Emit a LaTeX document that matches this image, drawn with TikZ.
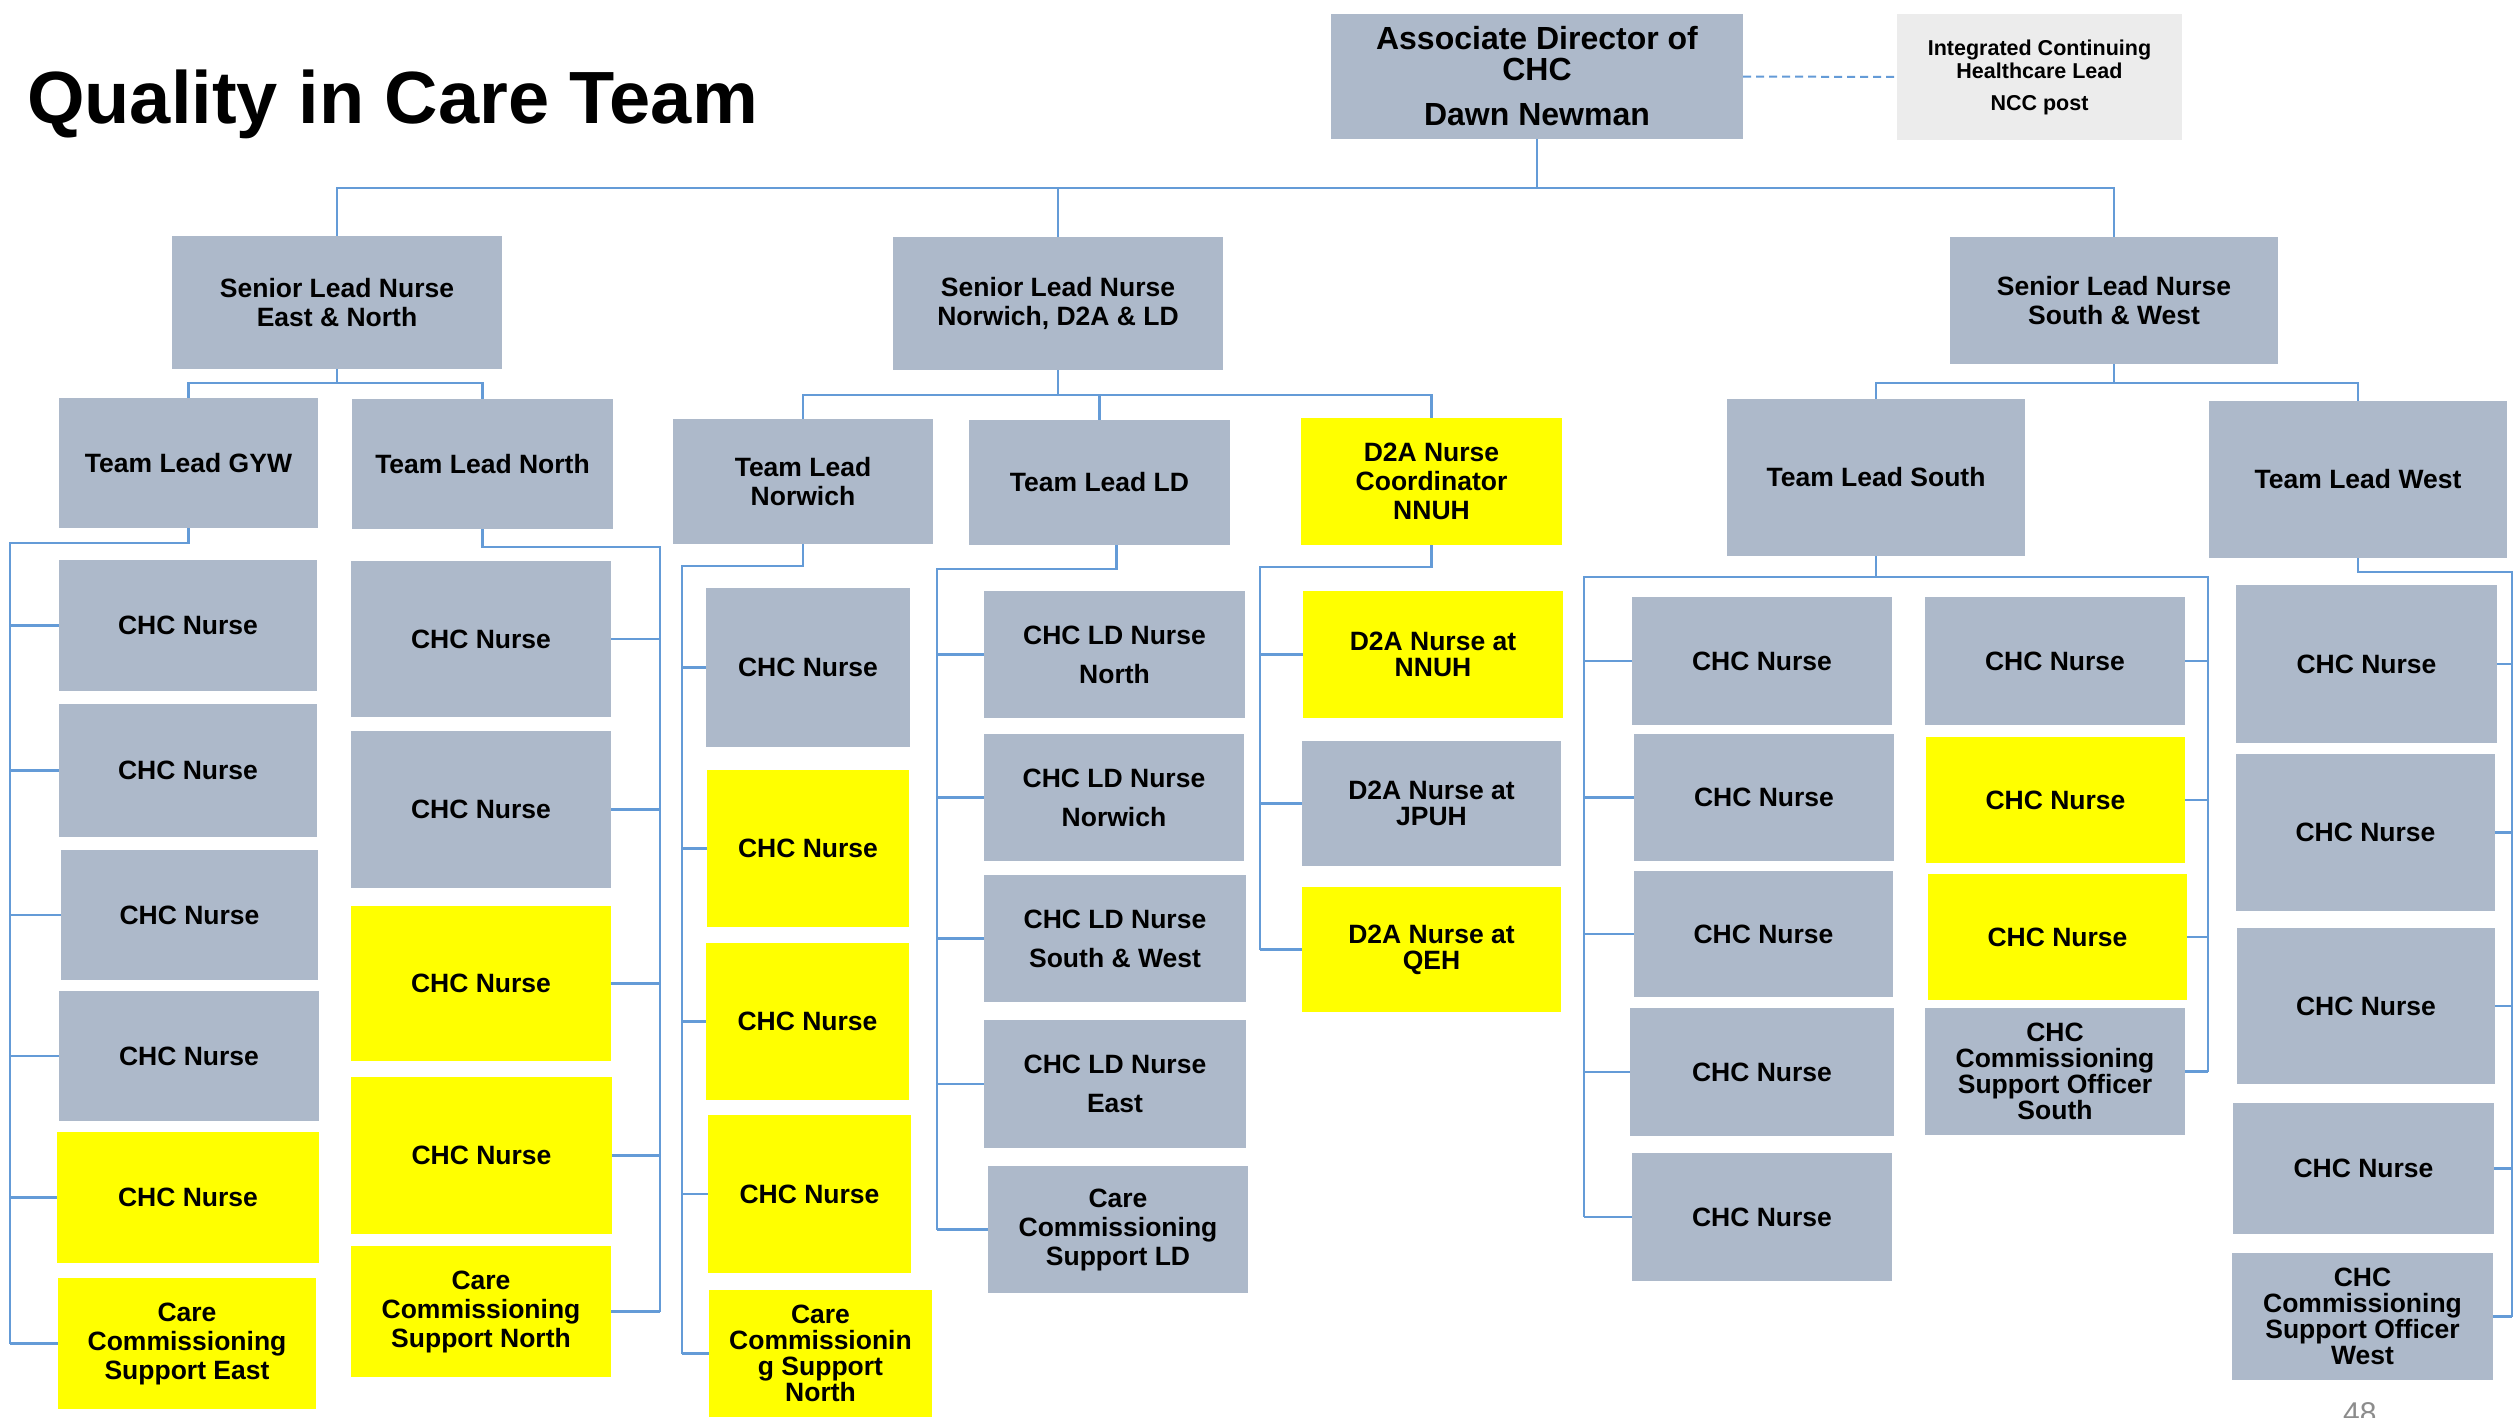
\documentclass[tikz,border=0pt]{standalone}
\usepackage{fontspec}
\setmainfont{Liberation Sans}
\definecolor{boxgray}{RGB}{173,185,202}
\definecolor{boxyellow}{RGB}{255,255,0}
\definecolor{lightbox}{RGB}{236,236,236}
\definecolor{connblue}{RGB}{100,155,215}
\definecolor{pagegray}{RGB}{140,140,140}
\newcommand{\obox}[7]{\node[#6, minimum width={#4-(#2)}, minimum height={#5-(#3)}] (#1) at ({(#2+#4)/2},{(#3+#5)/2}) {#7};}
\begin{document}
\begin{tikzpicture}[x=1pt,y=-1pt,
  base/.style={inner sep=0pt, outer sep=0pt, align=center, text=black, font=\bfseries\fontsize{26.5}{29}\selectfont},
  gbox/.style={base, fill=boxgray},
  ybox/.style={base, fill=boxyellow},
  ldtext/.style={font=\bfseries\fontsize{26.5}{39}\selectfont},
  tighttext/.style={font=\bfseries\fontsize{26.5}{26}\selectfont},
  conn/.style={draw=connblue, line width=2.2pt},
]
\useasboundingbox (0,0) rectangle (2514,1417);
\clip (0,0) rectangle (2514,1417);
\fill[white] (0,0) rectangle (2514,1417);

% title
\node[anchor=base west, inner sep=0pt, font=\bfseries\fontsize{74}{80}\selectfont] (title) at (27,123) {Quality in Care Team};

% top
\obox{dir}{1331}{14}{1743}{139}{gbox, font=\bfseries\fontsize{32}{31}\selectfont}{Associate Director of\\CHC\\[14pt]Dawn Newman}
\obox{ichl}{1897}{14}{2182}{140}{base, fill=lightbox, font=\bfseries\fontsize{21.5}{23}\selectfont}{Integrated Continuing\\Healthcare Lead\\[9pt]NCC post}

% senior leads
\obox{slnA}{172}{236}{502}{369}{gbox}{Senior Lead Nurse\\East \& North}
\obox{slnB}{893}{237}{1223}{370}{gbox}{Senior Lead Nurse\\Norwich, D2A \& LD}
\obox{slnC}{1950}{237}{2278}{364}{gbox}{Senior Lead Nurse\\South \& West}

% team leads
\obox{tlGYW}{59}{398}{318}{528}{gbox}{Team Lead GYW}
\obox{tlN}{352}{399}{613}{529}{gbox}{Team Lead North}
\obox{tlNor}{673}{419}{933}{544}{gbox}{Team Lead\\Norwich}
\obox{tlLD}{969}{420}{1230}{545}{gbox}{Team Lead LD}
\obox{d2aC}{1301}{418}{1562}{545}{ybox}{D2A Nurse\\Coordinator\\NNUH}
\obox{tlS}{1727}{399}{2025}{556}{gbox}{Team Lead South}
\obox{tlW}{2209}{401}{2507}{558}{gbox}{Team Lead West}

% column GYW
\obox{e1}{59}{560}{317}{691}{gbox}{CHC Nurse}
\obox{e2}{59}{704}{317}{837}{gbox}{CHC Nurse}
\obox{e3}{61}{850}{318}{980}{gbox}{CHC Nurse}
\obox{e4}{59}{991}{319}{1121}{gbox}{CHC Nurse}
\obox{e5}{57}{1132}{319}{1263}{ybox}{CHC Nurse}
\obox{e6}{58}{1278}{316}{1409}{ybox}{Care\\Commissioning\\Support East}

% column North
\obox{n1}{351}{561}{611}{717}{gbox}{CHC Nurse}
\obox{n2}{351}{731}{611}{888}{gbox}{CHC Nurse}
\obox{n3}{351}{906}{611}{1061}{ybox}{CHC Nurse}
\obox{n4}{351}{1077}{612}{1234}{ybox}{CHC Nurse}
\obox{n5}{351}{1246}{611}{1377}{ybox}{Care\\Commissioning\\Support North}

% column Norwich
\obox{w1}{706}{588}{910}{747}{gbox}{CHC Nurse}
\obox{w2}{707}{770}{909}{927}{ybox}{CHC Nurse}
\obox{w3}{706}{943}{909}{1100}{ybox}{CHC Nurse}
\obox{w4}{708}{1115}{911}{1273}{ybox}{CHC Nurse}
\obox{w5}{709}{1290}{932}{1417}{ybox, tighttext}{Care\\Commissionin\\g Support\\North}

% column LD
\obox{l1}{984}{591}{1245}{718}{gbox, ldtext}{CHC LD Nurse\\North}
\obox{l2}{984}{734}{1244}{861}{gbox, ldtext}{CHC LD Nurse\\Norwich}
\obox{l3}{984}{875}{1246}{1002}{gbox, ldtext}{CHC LD Nurse\\South \& West}
\obox{l4}{984}{1020}{1246}{1148}{gbox, ldtext}{CHC LD Nurse\\East}
\obox{l5}{988}{1166}{1248}{1293}{gbox}{Care\\Commissioning\\Support LD}

% column D2A
\obox{d1}{1303}{591}{1563}{718}{ybox, tighttext}{D2A Nurse at\\NNUH}
\obox{d2}{1302}{741}{1561}{866}{gbox, tighttext}{D2A Nurse at\\JPUH}
\obox{d3}{1302}{887}{1561}{1012}{ybox, tighttext}{D2A Nurse at\\QEH}

% column South left
\obox{s1}{1632}{597}{1892}{725}{gbox}{CHC Nurse}
\obox{s2}{1634}{734}{1894}{861}{gbox}{CHC Nurse}
\obox{s3}{1634}{871}{1893}{997}{gbox}{CHC Nurse}
\obox{s4}{1630}{1008}{1894}{1136}{gbox}{CHC Nurse}
\obox{s5}{1632}{1153}{1892}{1281}{gbox}{CHC Nurse}

% column South right
\obox{r1}{1925}{597}{2185}{725}{gbox}{CHC Nurse}
\obox{r2}{1926}{737}{2185}{863}{ybox}{CHC Nurse}
\obox{r3}{1928}{874}{2187}{1000}{ybox}{CHC Nurse}
\obox{r4}{1925}{1008}{2185}{1135}{gbox, tighttext}{CHC\\Commissioning\\Support Officer\\South}

% column West
\obox{v1}{2236}{585}{2497}{743}{gbox}{CHC Nurse}
\obox{v2}{2236}{754}{2495}{911}{gbox}{CHC Nurse}
\obox{v3}{2237}{928}{2495}{1084}{gbox}{CHC Nurse}
\obox{v4}{2233}{1103}{2494}{1234}{gbox}{CHC Nurse}
\obox{v5}{2232}{1253}{2493}{1380}{gbox, tighttext}{CHC\\Commissioning\\Support Officer\\West}

% page number
\node[anchor=north west, inner sep=0pt, text=pagegray, font=\fontsize{30}{30}\selectfont] (pnum) at (2343,1402) {48};

% dashed link
\draw[draw=connblue, line width=2pt, dash pattern=on 8pt off 5pt] (dir.east) -- (ichl.west);

% director to senior leads
\coordinate (jDir) at (1537,188);
\draw[conn] (dir.south) -- (jDir);
\draw[conn] (jDir) -| (slnA.north);
\draw[conn] (jDir) -| (slnB.north);
\draw[conn] (jDir) -| (slnC.north);

% senior leads to team leads
\coordinate (jA) at (337,383);
\draw[conn] (slnA.south) -- (jA);
\draw[conn] (jA) -| (tlGYW.north);
\draw[conn] (jA) -| (tlN.north);
\coordinate (jB) at (1058,395);
\draw[conn] (slnB.south) -- (jB);
\draw[conn] (jB) -| (tlNor.north);
\draw[conn] (jB) -| (tlLD.north);
\draw[conn] (jB) -| (d2aC.north);
\coordinate (jC) at (2114,383);
\draw[conn] (slnC.south) -- (jC);
\draw[conn] (jC) -| (tlS.north);
\draw[conn] (jC) -| (tlW.north);

% GYW bracket
\coordinate (bGYW) at (10,543);
\draw[conn] (tlGYW.south) |- (bGYW) -- (bGYW |- e6.west);
\foreach \n in {e1,e2,e3,e4,e5,e6} \draw[conn] (bGYW |- \n.west) -- (\n.west);

% North bracket
\coordinate (bN) at (660,547);
\draw[conn] (tlN.south) |- (bN) -- (bN |- n5.east);
\foreach \n in {n1,n2,n3,n4,n5} \draw[conn] (\n.east) -- (bN |- \n.east);

% Norwich bracket
\coordinate (bNor) at (682,566);
\draw[conn] (tlNor.south) |- (bNor) -- (bNor |- w5.west);
\foreach \n in {w1,w2,w3,w4,w5} \draw[conn] (bNor |- \n.west) -- (\n.west);

% LD bracket
\coordinate (bLD) at (937,569);
\draw[conn] ([xshift=17pt]tlLD.south) |- (bLD) -- (bLD |- l5.west);
\foreach \n in {l1,l2,l3,l4,l5} \draw[conn] (bLD |- \n.west) -- (\n.west);

% D2A bracket
\coordinate (bD) at (1260,567);
\draw[conn] (d2aC.south) |- (bD) -- (bD |- d3.west);
\foreach \n in {d1,d2,d3} \draw[conn] (bD |- \n.west) -- (\n.west);

% South brackets
\coordinate (bS) at (1584,577);
\coordinate (bR) at (2208,577);
\draw[conn] (tlS.south) |- (bS) -- (bS |- s5.west);
\draw[conn] (tlS.south) |- (bR) -- (bR |- r4.east);
\foreach \n in {s1,s2,s3,s4,s5} \draw[conn] (bS |- \n.west) -- (\n.west);
\foreach \n in {r1,r2,r3,r4} \draw[conn] (\n.east) -- (bR |- \n.east);

% West bracket
\coordinate (bW) at (2512,572);
\draw[conn] (tlW.south) |- (bW) -- (bW |- v5.east);
\foreach \n in {v1,v2,v3,v4,v5} \draw[conn] (\n.east) -- (bW |- \n.east);
\end{tikzpicture}
\end{document}
